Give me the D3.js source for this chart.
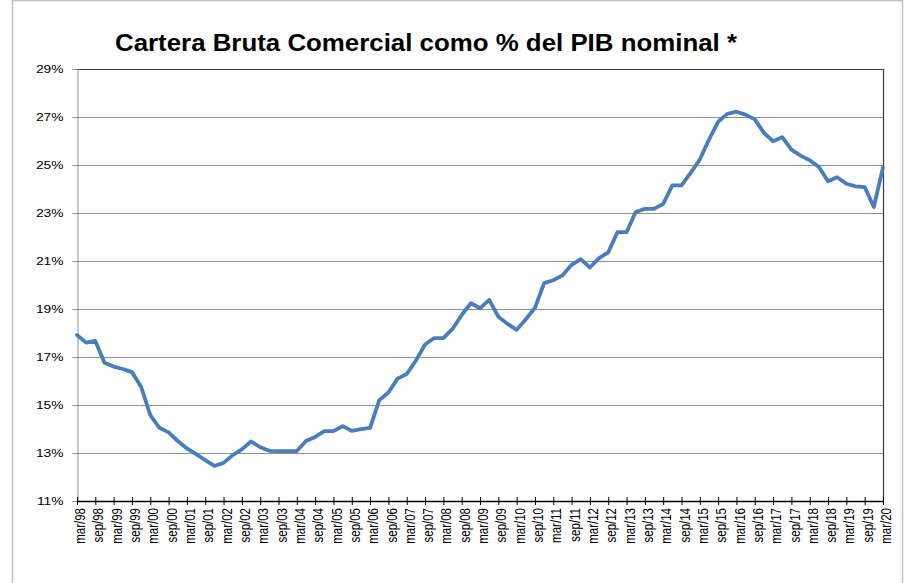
<!DOCTYPE html>
<html>
<head>
<meta charset="utf-8">
<script src="https://cdn.jsdelivr.net/npm/d3@7"></script>
<style>
  body { margin: 0; background: #fff; }
  svg { display: block; font-family: "Liberation Sans", Arial, sans-serif; }
</style>
</head>
<body>
<svg id="chart" width="910" height="583"></svg>
<script>
// Quarterly periods, mar/98 .. mar/20
const quarters = [
  "mar/98","jun/98","sep/98","dic/98","mar/99","jun/99","sep/99","dic/99",
  "mar/00","jun/00","sep/00","dic/00","mar/01","jun/01","sep/01","dic/01",
  "mar/02","jun/02","sep/02","dic/02","mar/03","jun/03","sep/03","dic/03",
  "mar/04","jun/04","sep/04","dic/04","mar/05","jun/05","sep/05","dic/05",
  "mar/06","jun/06","sep/06","dic/06","mar/07","jun/07","sep/07","dic/07",
  "mar/08","jun/08","sep/08","dic/08","mar/09","jun/09","sep/09","dic/09",
  "mar/10","jun/10","sep/10","dic/10","mar/11","jun/11","sep/11","dic/11",
  "mar/12","jun/12","sep/12","dic/12","mar/13","jun/13","sep/13","dic/13",
  "mar/14","jun/14","sep/14","dic/14","mar/15","jun/15","sep/15","dic/15",
  "mar/16","jun/16","sep/16","dic/16","mar/17","jun/17","sep/17","dic/17",
  "mar/18","jun/18","sep/18","dic/18","mar/19","jun/19","sep/19","dic/19",
  "mar/20"
];

// Cartera bruta comercial, % del PIB nominal
const carteraPct = [
  17.92, 17.60, 17.67, 16.76, 16.60, 16.50, 16.37, 15.76,
  14.58, 14.05, 13.86, 13.50, 13.19, 12.95, 12.70, 12.46,
  12.59, 12.91, 13.15, 13.48, 13.24, 13.09, 13.08, 13.08,
  13.08, 13.50, 13.67, 13.91, 13.91, 14.12, 13.92, 13.99,
  14.05, 15.20, 15.52, 16.10, 16.29, 16.85, 17.52, 17.79,
  17.79, 18.17, 18.75, 19.24, 19.03, 19.38, 18.68, 18.38,
  18.13, 18.57, 19.05, 20.08, 20.20, 20.40, 20.84, 21.08,
  20.73, 21.12, 21.36, 22.20, 22.20, 23.04, 23.17, 23.17,
  23.38, 24.15, 24.15, 24.67, 25.23, 26.06, 26.80, 27.13,
  27.22, 27.10, 26.90, 26.34, 25.99, 26.16, 25.64, 25.39,
  25.20, 24.92, 24.32, 24.49, 24.22, 24.11, 24.08, 23.25,
  24.90
];

// Axis ticks
const xTickLabels = [
  "mar/98","sep/98","mar/99","sep/99","mar/00","sep/00","mar/01","sep/01",
  "mar/02","sep/02","mar/03","sep/03","mar/04","sep/04","mar/05","sep/05",
  "mar/06","sep/06","mar/07","sep/07","mar/08","sep/08","mar/09","sep/09",
  "mar/10","sep/10","mar/11","sep/11","mar/12","sep/12","mar/13","sep/13",
  "mar/14","sep/14","mar/15","sep/15","mar/16","sep/16","mar/17","sep/17",
  "mar/18","sep/18","mar/19","sep/19","mar/20"
];
const yTicks = [11, 13, 15, 17, 19, 21, 23, 25, 27, 29];

const titleText = "Cartera Bruta Comercial como % del PIB nominal *";

const svg = d3.select("#chart");
const plot = { left: 77, right: 883, top: 69, bottom: 501 };
const wide = 1.2; // horizontal widening of axis lettering

// Outer frame
svg.append("rect")
  .attr("x", 12.5).attr("y", 0.5)
  .attr("width", 890).attr("height", 590)
  .attr("fill", "none").attr("stroke", "#c0c0c0").attr("stroke-width", 1.5);

const x = d3.scalePoint().domain(quarters).range([plot.left, plot.right]);
const y = d3.scaleLinear().domain([11, 29]).range([plot.bottom, plot.top]);

// Horizontal gridlines
svg.append("g")
  .selectAll("line")
  .data(yTicks.filter(d => d > 11 && d < 29))
  .join("line")
  .attr("x1", plot.left).attr("x2", plot.right)
  .attr("y1", d => Math.round(y(d)) + 0.5).attr("y2", d => Math.round(y(d)) + 0.5)
  .attr("stroke", "#8c8c8c").attr("stroke-width", 1);

// Top and right border of the plot area
svg.append("path")
  .attr("d", `M${plot.left},${plot.top + 0.5}H${plot.right + 0.5}V${plot.bottom}`)
  .attr("fill", "none").attr("stroke", "#3a3a3a").attr("stroke-width", 1.2);

// Y axis
const yAxis = svg.append("g")
  .attr("transform", `translate(${plot.left + 0.5},0)`)
  .call(d3.axisLeft(y).tickValues(yTicks).tickFormat(d => d + "%").tickSize(5).tickPadding(9));
yAxis.select(".domain").attr("stroke", "#8c8c8c");
yAxis.selectAll(".tick line").attr("stroke", "#8c8c8c");
yAxis.selectAll(".tick text")
  .attr("font-size", 11.5).attr("fill", "#000")
  .attr("font-family", "Liberation Sans, Arial, sans-serif")
  .attr("x", -14 / wide)
  .attr("transform", `scale(${wide},1)`);

// X axis with ticks crossing the axis line
const xAxis = svg.append("g")
  .attr("transform", `translate(0,${plot.bottom})`)
  .call(d3.axisBottom(x).tickValues(xTickLabels).tickSizeInner(4).tickSizeOuter(0).tickPadding(6));
xAxis.select(".domain").attr("stroke", "#000").attr("stroke-width", 1.3);
xAxis.selectAll(".tick line").attr("y1", -4).attr("y2", 4).attr("stroke", "#000");
xAxis.selectAll(".tick text")
  .attr("font-size", 11.5).attr("fill", "#000")
  .attr("font-family", "Liberation Sans, Arial, sans-serif")
  .attr("transform", `scale(${wide},1) rotate(-90)`)
  .attr("text-anchor", "end")
  .attr("x", -7).attr("y", 0).attr("dy", "0.55em");

// Series line
svg.append("path")
  .datum(carteraPct)
  .attr("fill", "none")
  .attr("stroke", "#4a7ebb")
  .attr("stroke-width", 3.8)
  .attr("stroke-linejoin", "round")
  .attr("stroke-linecap", "round")
  .attr("d", d3.line().x((d, i) => x(quarters[i])).y(d => y(d)));

// Title
svg.append("text")
  .attr("x", 115).attr("y", 51)
  .attr("text-anchor", "start")
  .attr("font-size", 24).attr("font-weight", "bold")
  .attr("textLength", 622).attr("lengthAdjust", "spacingAndGlyphs")
  .attr("fill", "#000")
  .text(titleText);
</script>
</body>
</html>
